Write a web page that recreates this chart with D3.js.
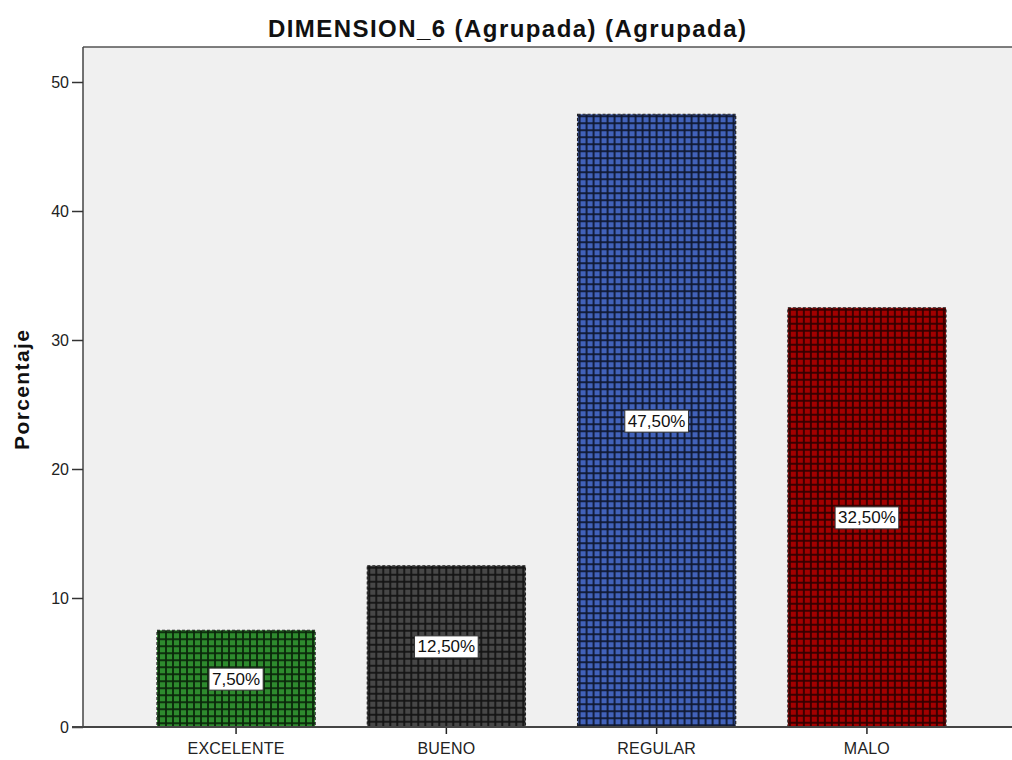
<!DOCTYPE html>
<html><head><meta charset="utf-8">
<script src="https://cdn.jsdelivr.net/npm/d3@7"></script>
<style>body{margin:0;background:#fff}svg{display:block;font-family:"Liberation Sans",Arial,sans-serif}</style>
</head><body><svg id="c" width="1012" height="760"></svg>
<script>
const categories = ["EXCELENTE","BUENO","REGULAR","MALO"];
const values = [7.5, 12.5, 47.5, 32.5];
const labels = ["7,50%","12,50%","47,50%","32,50%"];
const yTicks = [0,10,20,30,40,50];
const fills = ["#2e8b2e","#474747","#4262ba","#a30000"];
const lineCols = ["#0a260a","#141414","#0f1730","#300000"];

const svg = d3.select("#c");
const L=83, T=47, R=1012, B=727;
const x = d3.scaleBand().domain(categories).range([157,946]).paddingInner(0.248).paddingOuter(0);
const y = d3.scaleLinear().domain([0,50]).range([B,82]);

const defs = svg.append("defs");
categories.forEach((c,i)=>{
  const p = defs.append("pattern").attr("id","p"+i).attr("patternUnits","userSpaceOnUse")
    .attr("width",7).attr("height",7).attr("x",x(c)+1).attr("y",y(values[i])+1);
  p.append("rect").attr("width",7).attr("height",7).attr("fill",fills[i]);
  p.append("rect").attr("x",0).attr("y",0).attr("width",2).attr("height",7).attr("fill",lineCols[i]).attr("opacity",0.9);
  p.append("rect").attr("x",0).attr("y",0).attr("width",7).attr("height",2).attr("fill",lineCols[i]).attr("opacity",0.9);
});

svg.append("rect").attr("x",L).attr("y",T).attr("width",R-L).attr("height",B-T).attr("fill","#f0f0f0");
svg.append("line").attr("x1",L).attr("x2",R).attr("y1",T).attr("y2",T).attr("stroke","#555").attr("stroke-width",1.5);
svg.append("line").attr("x1",L).attr("x2",L).attr("y1",T).attr("y2",B).attr("stroke","#444").attr("stroke-width",1.5);

svg.selectAll("rect.bar").data(categories).enter().append("rect").attr("class","bar")
  .attr("x",d=>x(d)).attr("width",x.bandwidth())
  .attr("y",(d,i)=>y(values[i])).attr("height",(d,i)=>B-y(values[i]))
  .attr("fill",(d,i)=>`url(#p${i})`)
  .attr("stroke","#222").attr("stroke-width",1.2).attr("stroke-dasharray","3,2");

// axes
const ya = svg.append("g").attr("transform",`translate(${L},0)`)
  .call(d3.axisLeft(y).tickValues(yTicks).tickSize(11).tickPadding(3));
ya.select(".domain").remove();
ya.selectAll(".tick line").attr("stroke","#333").attr("stroke-width",1.5);
ya.selectAll(".tick text").attr("font-size",16).attr("fill","#222").attr("font-family","'Liberation Sans',Arial,sans-serif");

const xa = svg.append("g").attr("transform",`translate(0,${B})`)
  .call(d3.axisBottom(x).tickSize(7).tickPadding(9));
xa.select(".domain").remove();
xa.selectAll(".tick line").attr("stroke","#222").attr("stroke-width",1.5);
xa.selectAll(".tick text").attr("font-size",16).attr("letter-spacing",0.2).attr("fill","#222").attr("font-family","'Liberation Sans',Arial,sans-serif");
svg.append("line").attr("x1",72).attr("x2",R).attr("y1",B).attr("y2",B).attr("stroke","#444").attr("stroke-width",2);

// value labels
categories.forEach((c,i)=>{
  const cx = x(c)+x.bandwidth()/2, cy = y(values[i]/2);
  const g = svg.append("g");
  const t = g.append("text").attr("x",cx).attr("y",cy+6).attr("text-anchor","middle")
    .attr("font-size",17).attr("fill","#111").text(labels[i]);
  const bb = t.node().getBBox();
  g.insert("rect","text").attr("x",bb.x-3).attr("y",bb.y-1.5).attr("width",bb.width+6).attr("height",bb.height+3)
    .attr("fill","#fff").attr("stroke","#333").attr("stroke-width",1);
});

svg.append("text").attr("x",507).attr("y",37).attr("text-anchor","middle")
  .attr("font-size",24).attr("font-weight","bold").attr("fill","#111")
  .attr("textLength",478).attr("lengthAdjust","spacing").text("DIMENSION_6 (Agrupada) (Agrupada)");
svg.append("text").attr("transform","translate(29,390) rotate(-90)").attr("text-anchor","middle")
  .attr("font-size",21).attr("font-weight","bold").attr("fill","#111")
  .attr("textLength",120).attr("lengthAdjust","spacing").text("Porcentaje");
</script></body></html>
